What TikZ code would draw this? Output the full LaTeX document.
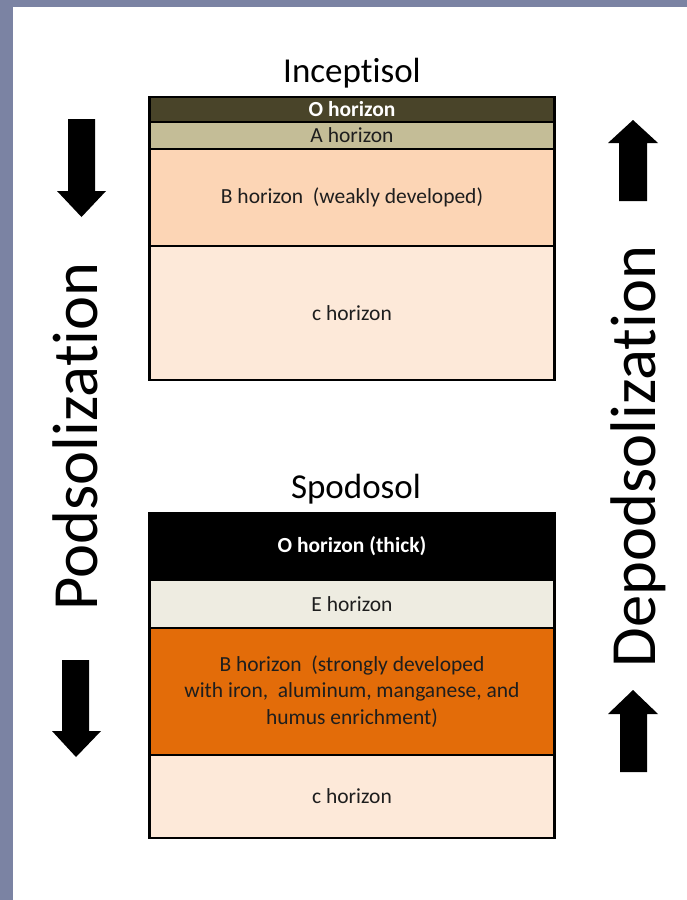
\documentclass[tikz,border=0pt]{standalone}
\usepackage{fontspec}
\setmainfont[Ligatures={NoCommon}]{Carlito}
\definecolor{slidebg}{HTML}{7B83A3}
\definecolor{oDark}{HTML}{494429}
\definecolor{aTan}{HTML}{C4BD97}
\definecolor{bLight}{HTML}{FCD5B5}
\definecolor{cPale}{HTML}{FDE9D9}
\definecolor{eGrey}{HTML}{EEECE1}
\definecolor{bOrange}{HTML}{E36C09}
\definecolor{txtDark}{HTML}{1E1E1E}
\begin{document}
\begin{tikzpicture}[x=1pt,y=-1pt,
  layer/.style={draw=black, line width=2.6pt, rectangle, minimum width=405pt,
    inner sep=0pt, outer sep=0pt, text=txtDark, align=center,
    font=\fontsize{21.5}{26.5}\selectfont},
  darklayer/.style={layer, text=white, font=\fontsize{21.5}{26.5}\selectfont\bfseries},
  title/.style={anchor=base, text=black, inner sep=0pt, font=\fontsize{35}{40}\selectfont},
  sidelabel/.style={anchor=base, rotate=90, inner sep=0pt, text=black, font=\fontsize{64.5}{70}\selectfont},
  blockarrow/.style={fill=black}]
\useasboundingbox (0,0) rectangle (687,900);
\fill[slidebg] (0,0) rectangle (687,900);
\fill[white] (13,7) rectangle (687,900);

% Inceptisol
\node[title] (t1) at (352,82) {Inceptisol};
\node[darklayer, fill=oDark, minimum height=25pt] (iO) at (352,109.5) {O horizon};
\node[layer, fill=aTan, minimum height=27pt] (iA) at (352,135.5) {A horizon};
\node[layer, fill=bLight, minimum height=97pt] (iB) at (352,197.5) {B horizon\ \ (weakly developed)};
\node[layer, fill=cPale, minimum height=134pt] (iC) at (352,313) {c horizon};

% Spodosol
\node[title] (t2) at (356,498) {Spodosol};
\node[darklayer, fill=black, minimum height=67pt] (sO) at (352,546.5) {O horizon (thick)};
\node[layer, fill=eGrey, minimum height=48pt] (sE) at (352,604) {E horizon};
\node[layer, fill=bOrange, minimum height=127pt] (sB) at (352,691.5) {B horizon\ \ (strongly developed\\with iron,\ \ aluminum, manganese, and\\humus enrichment)};
\node[layer, fill=cPale, minimum height=83pt] (sC) at (352,796.5) {c horizon};

% side labels
\node[sidelabel] (pod) at (97,436.5) {Podsolization};
\node[sidelabel] (depod) at (655,456.5) {Depodsolization};

% arrows
\fill[blockarrow] (68,119) -- (95,119) -- (95,191) -- (106,191) -- (81.5,217) -- (57,191) -- (68,191) -- cycle;
\fill[blockarrow] (62,660) -- (89,660) -- (89,731) -- (101,731) -- (76,757) -- (52,731) -- (62,731) -- cycle;
\fill[blockarrow] (619,201) -- (647,201) -- (647,143) -- (658,143) -- (633,120) -- (608,143) -- (619,143) -- cycle;
\fill[blockarrow] (620,772) -- (647,772) -- (647,714) -- (658,714) -- (633,690) -- (608,714) -- (620,714) -- cycle;
\end{tikzpicture}
\end{document}
